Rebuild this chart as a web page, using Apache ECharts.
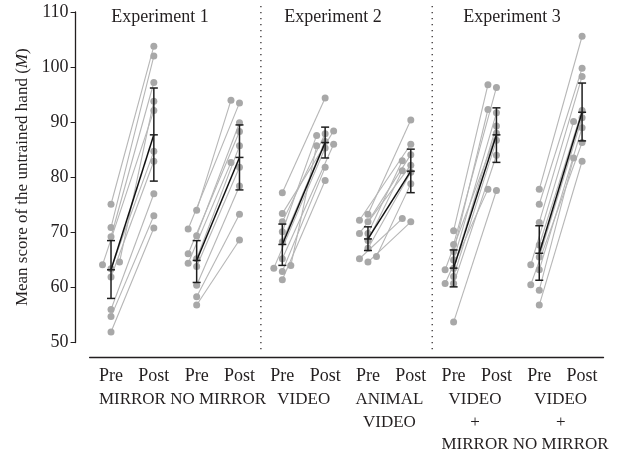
<!DOCTYPE html>
<html><head><meta charset="utf-8">
<script src="https://cdn.jsdelivr.net/npm/echarts@6/dist/echarts.min.js"></script>
<style>html,body{margin:0;padding:0;background:#fff}#c{width:631px;height:456px}</style>
</head><body><div id="c"></div>
<script>
// ---- data ----
const timeLabels = ['Pre', 'Post'];
const groupLabels = ['MIRROR', 'NO MIRROR', 'VIDEO', 'ANIMAL\nVIDEO', 'VIDEO\n+\nMIRROR', 'VIDEO\n+\nNO MIRROR'];
const experimentTitles = ['Experiment 1', 'Experiment 2', 'Experiment 3'];
const groupsPerExperiment = [2, 2, 2];
const yMin = 50, yMax = 110, yStep = 10;
const yAxisName = 'Mean score of the untrained hand (';
const yAxisSymbol = 'M';

// individual subjects, pre[i] paired with post[i]
const mirrorPre    = [75.1, 70.9, 69.2, 64.6, 64.1, 63.4, 61.9, 56.0, 54.7, 51.9];
const mirrorPost   = [103.8, 102.0, 97.2, 93.8, 92.1, 84.7, 82.9, 77.0, 73.0, 70.8];
const noMirrorPre  = [74.0, 70.6, 69.4, 66.1, 65.2, 64.4, 63.8, 60.4, 58.3, 56.8];
const noMirrorPost = [94.0, 93.5, 89.9, 88.3, 85.7, 82.7, 81.8, 78.4, 73.3, 68.6];
const videoPre     = [77.2, 73.4, 71.9, 70.1, 68.3, 65.2, 64.0, 63.5, 62.9, 61.4];
const videoPost    = [94.4, 88.4, 87.9, 87.6, 86.5, 86.0, 85.7, 85.3, 81.8, 79.4];
const animalPre    = [73.3, 72.2, 71.9, 69.8, 69.8, 68.5, 67.1, 65.6, 65.2, 64.6];
const animalPost   = [90.4, 86.0, 84.1, 83.0, 82.2, 81.2, 80.9, 78.8, 72.5, 71.9];
const vidMirPre    = [70.3, 67.8, 66.5, 65.0, 63.5, 63.2, 62.0, 60.7, 60.7, 53.7];
const vidMirPost   = [96.8, 96.3, 92.3, 91.7, 89.3, 88.0, 86.7, 84.0, 77.8, 77.6];
const vidNoMirPre  = [77.8, 75.1, 71.8, 67.7, 65.5, 64.1, 63.2, 60.5, 59.5, 56.8];
const vidNoMirPost = [105.6, 99.8, 98.3, 92.1, 90.8, 90.1, 89.0, 86.3, 83.5, 82.9];

// group means and error-bar limits
const preMean  = [63.2, 64.9, 67.8, 68.8, 63.5, 66.2];
const preLow   = [58.0, 60.9, 64.0, 66.7, 60.1, 61.3];
const preHigh  = [68.5, 68.5, 71.5, 71.0, 66.8, 71.2];
const postMean = [87.7, 83.6, 86.3, 81.1, 87.7, 91.8];
const postLow  = [79.3, 77.7, 83.5, 77.2, 82.7, 86.6];
const postHigh = [96.2, 89.5, 89.1, 85.1, 92.6, 97.1];

// ---- layout / style ----
const FONT = '"Liberation Serif", "Times New Roman", serif';
const TXT = '#231f20';
const GRID = {left: 89.6, right: 27.5, top: 12, bottom: 110};
const W = 631, H = 456;
const bandPx = (W - GRID.left - GRID.right) / (groupLabels.length * 2);
const pxPerUnit = (H - GRID.top - GRID.bottom) / (yMax - yMin);
const DODGE_PX = 8.5, MIN_DIST = 7.2;

const pres = [mirrorPre, noMirrorPre, videoPre, animalPre, vidMirPre, vidNoMirPre];
const posts = [mirrorPost, noMirrorPost, videoPost, animalPost, vidMirPost, vidNoMirPost];

// simple beeswarm-style dodge of overlapping dots (max one step left/right)
function dodge(values) {
  const order = values.map((v, i) => i).sort((a, b) => values[a] - values[b]);
  const placed = [];
  const off = new Array(values.length).fill(0);
  for (const i of order) {
    let best = 0, bestD = -1;
    for (const o of [0, -1, 1]) {
      const d = placed.reduce((m, p) => Math.min(m, Math.hypot((p.o - o) * DODGE_PX, (p.v - values[i]) * pxPerUnit)), Infinity);
      if (d >= MIN_DIST) { best = o; bestD = d; break; }
      if (d > bestD) { best = o; bestD = d; }
    }
    off[i] = best; placed.push({o: best, v: values[i]});
  }
  return off.map(o => o * DODGE_PX / bandPx);
}

const catLabels = [];
groupLabels.forEach(() => timeLabels.forEach(t => catLabels.push(t)));

const pointData = [], pairLines = [], meanLines = [], errData = [];
pres.forEach((pre, g) => {
  const post = posts[g];
  const xPre = 2 * g, xPost = 2 * g + 1;
  const dPre = dodge(pre), dPost = dodge(post);
  pre.forEach((v, i) => {
    const a = [xPre + dPre[i], v], b = [xPost + dPost[i], post[i]];
    pointData.push(a, b);
    pairLines.push({coords: [a, b]});
  });
  meanLines.push({coords: [[xPre, preMean[g]], [xPost, postMean[g]]]});
  errData.push([xPre, preLow[g], preHigh[g], preMean[g]]);
  errData.push([xPost, postLow[g], postHigh[g], postMean[g]]);
});

const dividers = [];
let cum = 0;
groupsPerExperiment.slice(0, -1).forEach(n => { cum += n; dividers.push([cum * 2 - 0.5]); });

const chart = echarts.init(document.getElementById('c'), null, {renderer: 'canvas'});
chart.setOption({
  animation: false,
  backgroundColor: '#ffffff',
  grid: {left: GRID.left, right: GRID.right, top: GRID.top, bottom: GRID.bottom, containLabel: false},
  xAxis: [
    {
      type: 'category', data: catLabels, position: 'bottom', offset: 15, boundaryGap: true,
      axisLine: {onZero: false, lineStyle: {color: TXT, width: 1.3}},
      axisTick: {inside: true, alignWithLabel: true, length: 5, lineStyle: {color: TXT, width: 1}},
      axisLabel: {interval: 0, color: TXT, fontFamily: FONT, fontSize: 18, margin: 10}
    },
    {
      type: 'category', data: groupLabels, position: 'bottom', offset: 15, boundaryGap: true,
      axisLine: {show: false, onZero: false}, axisTick: {show: false},
      axisLabel: {interval: 0, color: TXT, fontFamily: FONT, fontSize: 17, lineHeight: 22.5, margin: 31}
    },
    {type: 'value', min: -0.5, max: groupLabels.length * 2 - 0.5, show: false, axisLine: {onZero: false}}
  ],
  yAxis: {
    type: 'value', min: yMin, max: yMax, interval: yStep, offset: 14,
    axisLine: {show: true, onZero: false, lineStyle: {color: TXT, width: 1.3}},
    axisTick: {show: true, inside: false, length: 5, lineStyle: {color: TXT}},
    axisLabel: {color: TXT, fontFamily: FONT, fontSize: 18, margin: 7},
    splitLine: {show: false},
    name: yAxisName + '{i|' + yAxisSymbol + '})',
    nameLocation: 'middle', nameGap: 45,
    nameTextStyle: {color: TXT, fontFamily: FONT, fontSize: 17,
      rich: {i: {fontStyle: 'italic', fontFamily: FONT, fontSize: 17, color: TXT}}}
  },
  graphic: experimentTitles.map((t, k) => ({
    type: 'text', x: [160, 333, 512][k], y: 17,
    style: {text: t, fill: TXT, font: '18px ' + FONT, align: 'center', verticalAlign: 'middle'}
  })),
  series: [
    {
      type: 'custom', xAxisIndex: 2, data: dividers, silent: true, z: 1,
      renderItem: (params, api) => {
        const top = api.coord([api.value(0), yMax]);
        const bot = api.coord([api.value(0), yMin]);
        return {type: 'line', shape: {x1: top[0], y1: top[1] - 6, x2: top[0], y2: bot[1] + 11},
          style: {stroke: TXT, lineWidth: 1.2, lineDash: [1.2, 4.8]}};
      }
    },
    {
      type: 'lines', coordinateSystem: 'cartesian2d', xAxisIndex: 2, data: pairLines, silent: true, z: 2,
      lineStyle: {color: '#b6b6b6', width: 1.1, opacity: 1}
    },
    {
      type: 'scatter', xAxisIndex: 2, data: pointData, symbolSize: 7, silent: true, z: 3,
      itemStyle: {color: '#a8a8a8', opacity: 1}
    },
    {
      type: 'lines', coordinateSystem: 'cartesian2d', xAxisIndex: 2, data: meanLines, silent: true, z: 4,
      lineStyle: {color: '#111111', width: 1.5, opacity: 1}
    },
    {
      type: 'custom', xAxisIndex: 2, data: errData, silent: true, z: 5,
      renderItem: (params, api) => {
        const x = api.value(0);
        const lo = api.coord([x, api.value(1)]);
        const hi = api.coord([x, api.value(2)]);
        const m = api.coord([x, api.value(3)]);
        const hw = 4;
        const st = {stroke: '#1e1e1e', lineWidth: 1.5};
        return {type: 'group', children: [
          {type: 'line', shape: {x1: lo[0], y1: lo[1], x2: hi[0], y2: hi[1]}, style: st},
          {type: 'line', shape: {x1: lo[0] - hw, y1: lo[1], x2: lo[0] + hw, y2: lo[1]}, style: st},
          {type: 'line', shape: {x1: hi[0] - hw, y1: hi[1], x2: hi[0] + hw, y2: hi[1]}, style: st},
          {type: 'line', shape: {x1: m[0] - hw, y1: m[1], x2: m[0] + hw, y2: m[1]}, style: st}
        ]};
      }
    }
  ]
});
</script>
</body></html>
